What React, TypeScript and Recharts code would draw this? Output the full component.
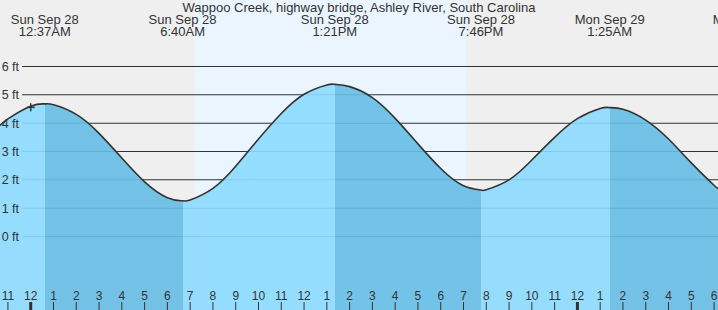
import React from 'react';
import { AreaChart, Area, XAxis, YAxis, ReferenceArea, ReferenceDot } from 'recharts';

document.body.style.margin = '0';

const FONT = '"Liberation Sans", Arial, sans-serif';
const W = 718;
const H = 310;

// hours since midnight Sun Sep 28, tide height in feet
const hours = [-1.348, -1, 0, 0.617, 1, 2, 3, 4, 5, 6, 6.667, 7, 8, 9, 10, 11, 12, 13, 13.35, 14, 15, 16, 17, 18, 19, 19.767, 20, 21, 22, 23, 24, 25, 25.417, 26, 27, 28, 29, 30, 30.172];
const feet = [3.92, 4.15, 4.6, 4.68, 4.65, 4.31, 3.64, 2.77, 1.93, 1.37, 1.26, 1.29, 1.7, 2.48, 3.44, 4.34, 5.02, 5.35, 5.37, 5.29, 4.9, 4.17, 3.27, 2.4, 1.79, 1.64, 1.65, 2.0, 2.7, 3.5, 4.16, 4.52, 4.55, 4.49, 4.11, 3.44, 2.6, 1.81, 1.72];

// high / low tide events
const tideHours = [0.617, 6.667, 13.35, 19.767, 25.417, 31.48];
const tideDates = ['Sun Sep 28', 'Sun Sep 28', 'Sun Sep 28', 'Sun Sep 28', 'Mon Sep 29', 'Mon Sep 29'];
const tideTimes = ['12:37AM', '6:40AM', '1:21PM', '7:46PM', '1:25AM', '7:29AM'];

const hourTicks = [-1, 0, 1, 2, 3, 4, 5, 6, 7, 8, 9, 10, 11, 12, 13, 14, 15, 16, 17, 18, 19, 20, 21, 22, 23, 24, 25, 26, 27, 28, 29, 30];
const hourLabels = ['11', '12', '1', '2', '3', '4', '5', '6', '7', '8', '9', '10', '11', '12', '1', '2', '3', '4', '5', '6', '7', '8', '9', '10', '11', '12', '1', '2', '3', '4', '5', '6'];
const midnightTicks = [0, 24];

const feetTicks = [0, 1, 2, 3, 4, 5, 6];
const feetLabels = ['0 ft', '1 ft', '2 ft', '3 ft', '4 ft', '5 ft', '6 ft'];

const sunrise = 7.21;
const sunset = 19.11;
const nowHour = 0;
const nowFeet = 4.56;

const xDomain = [-1.348, 30.172];
const yDomain = [-2.594, 8.347];
const gridStart = -0.38;
const halfPx = 0.5 / (H / (yDomain[1] - yDomain[0]));

const data = hours.map((h, i) => ({ h, ft: feet[i] }));

const LIGHT = '#8cdbff';
const DARK = '#66bde5';

// rising water light, falling water dark
const stops: { offset: number; color: string }[] = [];
let color = LIGHT;
tideHours.forEach((t) => {
  if (t <= xDomain[0] || t >= xDomain[1]) return;
  const off = (t - xDomain[0]) / (xDomain[1] - xDomain[0]);
  stops.push({ offset: off, color });
  color = color === LIGHT ? DARK : LIGHT;
  stops.push({ offset: off, color });
});

const HourTick = (props: any) => {
  const { x, payload } = props;
  const i = hourTicks.indexOf(payload.value);
  const thick = midnightTicks.includes(payload.value);
  return (
    <g>
      <line x1={x} x2={x} y1={H - 8} y2={H} stroke="#333" strokeWidth={thick ? 3 : 1} />
      <text x={x} y={H - 10} textAnchor="middle" fill="#333" fontSize={12} fontFamily={FONT}>
        {hourLabels[i]}
      </text>
    </g>
  );
};

const TideTick = (props: any) => {
  const { x, payload } = props;
  const i = tideHours.indexOf(payload.value);
  return (
    <g>
      <text x={x} y={24} textAnchor="middle" fill="#333" fontSize={13} fontFamily={FONT}>
        {tideDates[i]}
      </text>
      <text x={x} y={36} textAnchor="middle" fill="#333" fontSize={13} fontFamily={FONT}>
        {tideTimes[i]}
      </text>
    </g>
  );
};

const NowMarker = (props: any) => {
  const { cx, cy } = props;
  return (
    <g>
      <line x1={cx - 4} x2={cx + 4} y1={cy} y2={cy} stroke="#333" strokeWidth={1.5} />
      <line x1={cx} x2={cx} y1={cy - 4} y2={cy + 4} stroke="#333" strokeWidth={1.5} />
    </g>
  );
};

export default function App() {
  return (
    <div style={{ position: 'relative', width: W, height: H, overflow: 'hidden', background: '#efefef' }}>
      <AreaChart width={W} height={H} data={data} margin={{ top: 0, right: 0, bottom: 0, left: 0 }}>
        <defs>
          <linearGradient id="tideFill" gradientUnits="userSpaceOnUse" x1={0} y1={0} x2={W} y2={0}>
            <stop offset={0} stopColor={LIGHT} />
            {stops.map((s, i) => (
              <stop key={i} offset={s.offset} stopColor={s.color} />
            ))}
            <stop offset={1} stopColor={color} />
          </linearGradient>
        </defs>
        <XAxis
          dataKey="h"
          type="number"
          domain={xDomain}
          ticks={hourTicks}
          interval={0}
          mirror
          axisLine={false}
          tickLine={false}
          tick={<HourTick />}
        />
        <XAxis
          xAxisId="top"
          orientation="top"
          dataKey="h"
          type="number"
          domain={xDomain}
          ticks={tideHours}
          interval={0}
          mirror
          axisLine={false}
          tickLine={false}
          tick={<TideTick />}
        />
        <YAxis type="number" domain={yDomain} hide allowDataOverflow />
        <ReferenceArea x1={sunrise} x2={sunset} fill="#ebf5ff" fillOpacity={1} stroke="none" />
        {feetTicks.map((f, i) => (
          <ReferenceArea
            key={f}
            x1={gridStart}
            x2={xDomain[1]}
            y1={f - halfPx}
            y2={f + halfPx}
            fill="#333"
            fillOpacity={1}
            stroke="none"
            label={{ value: feetLabels[i], position: 'left', offset: 3, fill: '#333', fontSize: 12.5, fontFamily: FONT }}
          />
        ))}
        <Area
          type="natural"
          dataKey="ft"
          baseValue="dataMin"
          stroke="#333"
          strokeWidth={1.6}
          fill="url(#tideFill)"
          fillOpacity={0.9}
          isAnimationActive={false}
          dot={false}
          activeDot={false}
        />
        <ReferenceDot x={nowHour} y={nowFeet} r={4} shape={<NowMarker />} />
      </AreaChart>
      <div
        style={{
          position: 'absolute',
          top: 0,
          left: 0,
          width: W,
          textAlign: 'center',
          fontFamily: FONT,
          fontSize: 13,
          lineHeight: '15px',
          color: '#333',
        }}
      >
        Wappoo Creek, highway bridge, Ashley River, South Carolina
      </div>
    </div>
  );
}
